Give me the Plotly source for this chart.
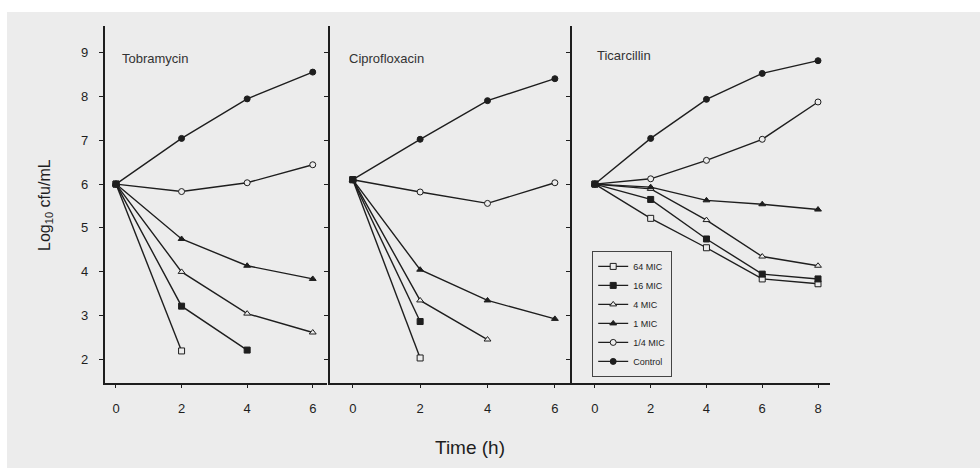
import plotly.graph_objects as go

# ---------------- data ----------------
time_tob = [0, 2, 4, 6]
time_cip = [0, 2, 4, 6]
time_tic = [0, 2, 4, 6, 8]

series_names = ["64 MIC", "16 MIC", "4 MIC", "1 MIC", "1/4 MIC", "Control"]

tob_64 = [6.0, 2.2]
tob_16 = [6.0, 3.22, 2.22]
tob_4 = [6.0, 4.0, 3.05, 2.62]
tob_1 = [6.0, 4.75, 4.14, 3.84]
tob_q = [6.0, 5.83, 6.03, 6.44]
tob_ctrl = [6.0, 7.04, 7.94, 8.55]

cip_64 = [6.1, 2.04]
cip_16 = [6.1, 2.87]
cip_4 = [6.1, 3.35, 2.46]
cip_1 = [6.1, 4.05, 3.35, 2.93]
cip_q = [6.1, 5.82, 5.56, 6.03]
cip_ctrl = [6.1, 7.02, 7.90, 8.40]

tic_64 = [6.0, 5.22, 4.55, 3.84, 3.73]
tic_16 = [6.0, 5.65, 4.75, 3.95, 3.84]
tic_4 = [6.0, 5.89, 5.18, 4.35, 4.14]
tic_1 = [6.0, 5.93, 5.63, 5.54, 5.42]
tic_q = [6.0, 6.12, 6.54, 7.02, 7.87]
tic_ctrl = [6.0, 7.04, 7.93, 8.52, 8.81]

panel_titles = ["Tobramycin", "Ciprofloxacin", "Ticarcillin"]
y_ticks = [2, 3, 4, 5, 6, 7, 8, 9]
x_ticks_short = [0, 2, 4, 6]
x_ticks_long = [0, 2, 4, 6, 8]

# ---------------- style ----------------
BG = "#ececec"
INK = "#1e1e1e"
FONT = "Liberation Sans, Arial, sans-serif"
symbols = ["square", "square", "triangle-up", "triangle-up", "circle", "circle"]
filled = [False, True, False, True, False, True]

panels = [
    (time_tob, [tob_64, tob_16, tob_4, tob_1, tob_q, tob_ctrl]),
    (time_cip, [cip_64, cip_16, cip_4, cip_1, cip_q, cip_ctrl]),
    (time_tic, [tic_64, tic_16, tic_4, tic_1, tic_q, tic_ctrl]),
]

fig = go.Figure()
for p, (tx, series) in enumerate(panels):
    for i, ys in enumerate(series):
        fig.add_trace(go.Scatter(
            x=tx[:len(ys)], y=ys, mode="lines+markers",
            name=series_names[i], legendgroup=series_names[i],
            showlegend=(p == 2),
            line=dict(color=INK, width=1.4),
            marker=dict(symbol=symbols[i], size=6,
                        color=INK if filled[i] else BG,
                        line=dict(color=INK, width=1)),
            xaxis="x" if p == 0 else f"x{p+1}",
            yaxis="y" if p == 0 else f"y{p+1}",
        ))

yr = [1.47, 9.6]
tickfont = dict(family=FONT, size=13, color=INK)
xcommon = dict(showgrid=False, zeroline=False, showline=True, linecolor=INK,
               linewidth=2, ticks="outside", ticklen=3, tickcolor=INK,
               tickfont=tickfont, ticklabelstandoff=9)
ycommon = dict(showgrid=False, zeroline=False, showline=True, linecolor=INK,
               linewidth=2, ticks="outside", ticklen=4, tickcolor=INK,
               range=yr, tickvals=y_ticks, showticklabels=False)

fig.update_layout(
    width=980, height=468,
    margin=dict(l=105, r=150, t=26, b=85),
    paper_bgcolor=BG, plot_bgcolor=BG,
    font=dict(family=FONT, color=INK),
    xaxis=dict(domain=[0, 0.306], range=[-0.335, 6.43], tickvals=x_ticks_short,
               anchor="y", **xcommon),
    xaxis2=dict(domain=[0.310, 0.644], range=[-0.683, 6.505], tickvals=x_ticks_short,
                anchor="y2", **xcommon),
    xaxis3=dict(domain=[0.644, 1.0], range=[-0.825, 8.43], tickvals=x_ticks_long,
                anchor="y3", **xcommon),
    yaxis=dict(anchor="x", **ycommon),
    yaxis2=dict(anchor="x2", **ycommon),
    yaxis3=dict(anchor="x3", **ycommon),
    legend=dict(x=0.672, y=0.37, xanchor="left", yanchor="top",
                bgcolor=BG, bordercolor="#444444", borderwidth=1,
                font=dict(family=FONT, size=9, color=INK),
                tracegroupgap=0, itemwidth=30),
    showlegend=True,
)

# y tick labels of the left panel (placed on the y scale, further out as in the scan)
for v in y_ticks:
    fig.add_annotation(text=str(v), xref="paper", yref="y",
                       x=(84 - 105) / 725, y=v, xanchor="center", yanchor="middle",
                       showarrow=False, font=tickfont)

# white scan borders (top and left)
fig.add_shape(type="rect", xref="paper", yref="paper", x0=-0.3, x1=1.3,
              y0=1.0392, y1=1.2, fillcolor="white", line_width=0, layer="below")
fig.add_shape(type="rect", xref="paper", yref="paper", x0=-0.3, x1=-0.1352,
              y0=-0.4, y1=1.2, fillcolor="white", line_width=0, layer="below")

# panel titles
title_pos = [(120, 58), (347, 58), (595, 55)]
for t, (px, py) in zip(panel_titles, title_pos):
    fig.add_annotation(text=t, xref="paper", yref="paper",
                       x=(px - 105) / 725, y=(383 - py) / 357,
                       xanchor="left", yanchor="middle", showarrow=False,
                       font=dict(family=FONT, size=13, color="#333333"))

# axis titles
fig.add_annotation(text="Log<sub>10</sub> cfu/mL", xref="paper", yref="paper",
                   x=(45 - 105) / 725, y=(383 - 205) / 357, textangle=-90,
                   xanchor="center", yanchor="middle", showarrow=False,
                   font=dict(family=FONT, size=16, color=INK))
fig.add_annotation(text="Time (h)", xref="paper", yref="paper",
                   x=(470 - 105) / 725, y=(383 - 447) / 357,
                   xanchor="center", yanchor="middle", showarrow=False,
                   font=dict(family=FONT, size=19, color=INK))

fig.write_html("out.html")
